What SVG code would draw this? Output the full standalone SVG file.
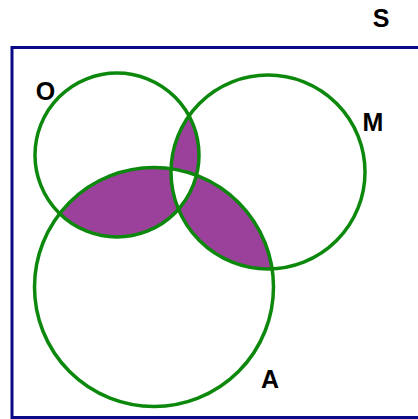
<svg xmlns="http://www.w3.org/2000/svg" width="418" height="419" viewBox="0 0 418 419">
<style>
.set{fill:none;stroke:#0c880c;stroke-width:3.5}
.shade{fill:#9b409b}
.lbl{font-family:"Liberation Sans",Arial,sans-serif;font-weight:bold;font-size:25px;fill:#000;text-anchor:middle}
</style>
<defs>
<clipPath id="cO"><circle cx="117" cy="155" r="82"/></clipPath>
<clipPath id="cM"><circle cx="268" cy="172" r="97"/></clipPath>
<clipPath id="cA"><circle cx="154" cy="287" r="119.5"/></clipPath>
</defs>
<rect width="418" height="419" fill="#fff"/>
<g id="universe">
<rect x="12" y="47.5" width="410" height="370" fill="none" stroke="#0a0a88" stroke-width="3"/>
<text class="lbl" x="381" y="27">S</text>
</g>
<g id="shading">
<circle class="shade" cx="154" cy="287" r="119.5" clip-path="url(#cO)"/>
<circle class="shade" cx="154" cy="287" r="119.5" clip-path="url(#cM)"/>
<circle class="shade" cx="117" cy="155" r="82" clip-path="url(#cM)"/>
<g clip-path="url(#cO)"><circle cx="154" cy="287" r="119.5" fill="#fff" clip-path="url(#cM)"/></g>
</g>
<g id="set-O">
<circle class="set" cx="117" cy="155" r="82"/>
<text class="lbl" x="45.5" y="99.5">O</text>
</g>
<g id="set-M">
<circle class="set" cx="268" cy="172" r="97"/>
<text class="lbl" x="373" y="130.5">M</text>
</g>
<g id="set-A">
<circle class="set" cx="154" cy="287" r="119.5"/>
<text class="lbl" x="270" y="388">A</text>
</g>
<g id="connectors"/>
</svg>
